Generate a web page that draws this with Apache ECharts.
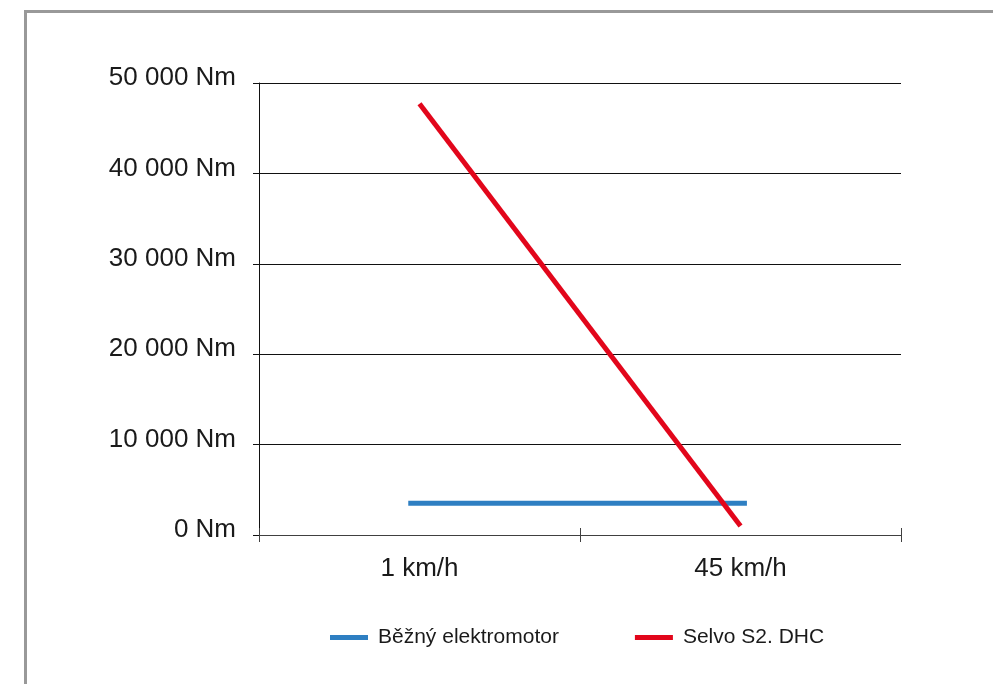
<!DOCTYPE html>
<html>
<head>
<meta charset="utf-8">
<script src="https://cdn.jsdelivr.net/npm/echarts@6/dist/echarts.min.js"></script>
<style>
html,body{margin:0;padding:0;background:#fff;}
#chart{width:993px;height:684px;}
</style>
</head>
<body>
<div id="chart"></div>
<script>
// Data
var categories = ['1 km/h', '45 km/h'];
var seriesNames = ['Běžný elektromotor', 'Selvo S2. DHC'];
var electroX = [0.465, 1.52];          // speed position on the category scale
var electroTorque = [3500, 3500];      // Nm
var selvoTorque = [47700, 1000];       // Nm, one per category
var yTicks = [0, 10000, 20000, 30000, 40000, 50000];

var FONT = "'Liberation Sans', Arial, Helvetica, sans-serif";
function fmt(v){ return String(v).replace(/\B(?=(\d{3})+(?!\d))/g, ' ') + ' Nm'; }

var chart = echarts.init(document.getElementById('chart'));
chart.setOption({
  animation: false,
  backgroundColor: '#ffffff',
  graphic: [{
    type: 'rect',
    shape: { x: 25.5, y: 11.5, width: 1100, height: 800 },
    style: { fill: 'none', stroke: '#999999', lineWidth: 3 },
    z: 0
  }],
  grid: { left: 259, top: 83, right: 92, bottom: 149 },
  legend: {
    data: seriesNames,
    left: 325,
    top: 622,
    itemWidth: 38,
    itemHeight: 5,
    itemGap: 76,
    icon: 'rect',
    textStyle: { fontFamily: FONT, fontSize: 21, color: '#1a1a1a', padding: [0, 0, 0, 5] }
  },
  xAxis: [{
    type: 'category',
    data: categories,
    boundaryGap: true,
    axisLine: { show: true, lineStyle: { color: '#404040', width: 1 } },
    axisTick: { show: true, length: 7, lineStyle: { color: '#404040' } },
    axisLabel: { fontFamily: FONT, fontSize: 26, color: '#1a1a1a', margin: 21 },
    splitLine: { show: false }
  }, {
    type: 'category',
    data: categories,
    boundaryGap: true,
    position: 'bottom',
    axisLine: { show: false },
    axisTick: { show: true, inside: true, length: 7, lineStyle: { color: '#404040' } },
    axisLabel: { show: false },
    splitLine: { show: false }
  }, {
    type: 'value',
    min: 0, max: 2,
    show: false
  }],
  yAxis: {
    type: 'value',
    min: yTicks[0],
    max: yTicks[yTicks.length - 1],
    interval: 10000,
    axisLine: { show: true, lineStyle: { color: '#111', width: 1 } },
    axisTick: { show: true, length: 6, lineStyle: { color: '#111' } },
    axisLabel: { fontFamily: FONT, fontSize: 26, color: '#1a1a1a', margin: 23, formatter: fmt, verticalAlign: 'bottom', lineHeight: 10 },
    splitLine: { show: true, lineStyle: { color: '#111', width: 1 } }
  },
  series: [{
    name: seriesNames[0],
    type: 'line',
    xAxisIndex: 2,
    data: electroX.map(function (x, i) { return [x, electroTorque[i]]; }),
    symbol: 'none',
    lineStyle: { color: '#2e7fc2', width: 5 },
    itemStyle: { color: '#2e7fc2' },
    z: 3
  }, {
    name: seriesNames[1],
    type: 'line',
    xAxisIndex: 0,
    data: selvoTorque,
    symbol: 'none',
    lineStyle: { color: '#e2061b', width: 5 },
    itemStyle: { color: '#e2061b' },
    z: 4
  }]
});
</script>
</body>
</html>
